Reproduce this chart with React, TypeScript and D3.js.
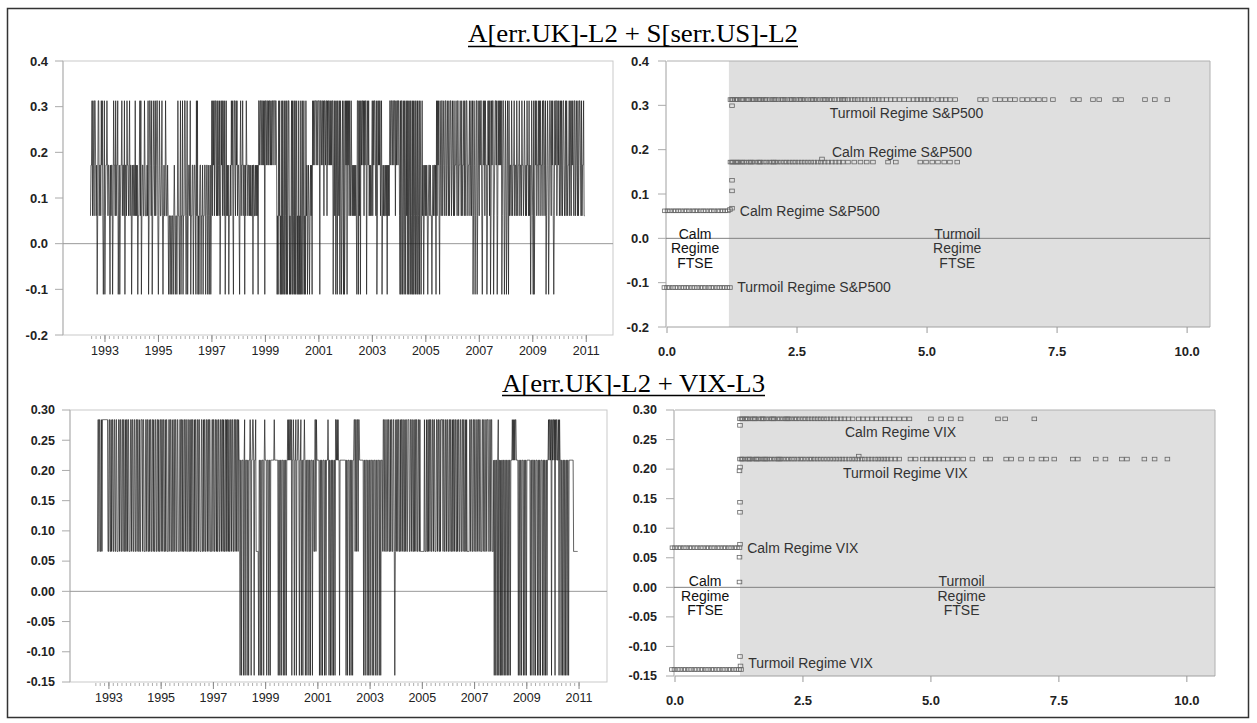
import React from "react";
import * as d3 from "d3";

// ---------- time series (left panels) ----------
// one letter per week, letters map to the regime levels below; one string per quarter
const ukSpLevels: Record<string, number> = { a: 0.313, b: 0.172, c: 0.061, d: -0.111 };
const ukSpStart = 1992.458;
const ukSpCodes = [
  "cbbacabcaabcbdcaacbbcabacdca",
  "dcbbabcbbcdbc", "bbdcabbcacbba", "dcbdcbbacbbca", "dbbcabbcbacbb",
  "dcbcbbcacbcbd", "ccbacadcbbcca", "bcccbcadcaabc", "adcbabcacbaac",
  "dcabccbacdcbc", "cabccbcdccdcc", "dccdcbcdccdca", "ccdcadccadcca",
  "acdcadcbbcadc", "cbbdcbbcdacad", "cdcbbdccbdccb", "bdcbbdcbdcbdc",
  "acabacaabcaca", "bcadcabacabca", "dcacbcbdccbca", "bacdaabcabacb",
  "bcdbacbbacbbd", "bcabbcbbcbcbc", "cbdbbccbcbcbd", "aabaabaababad",
  "aabaababaabab", "aabaaabaabdcd", "acadcdadacdad", "cadadcaadcdca",
  "dadcadadcadcd", "adcdadcadcadc", "dacbdcbcdcbcb", "dababaaabaaba",
  "aadaabaabacaa", "baacabaababab", "aadbacadcadab", "cadabdcabdadc",
  "abadabacabcab", "cbcbcbcbcdaad", "acadabaabacab", "aadbabacbcbcb",
  "acabaabcadcab", "abacbadcbcbcc", "bcbdbcbcaabaa", "baabaacabaaba",
  "acdadaadcadab", "dacadadcadacd", "adadcadacdadc", "adabdcacbdcbc",
  "bcbcdcbbcbccd", "cbcbbcbdacaba", "cdabcaacbabca", "acbabcacbaacb",
  "abcacbbabcaac", "bbabcacbbacab", "caabcbbacbacb", "adcabdcaadcab",
  "cabaacdbabaca", "bbdcabacadcab", "aadcbaabadcab", "ababadcaabdca",
  "bdcabdacbbcab", "cbbacbbcabcbb", "acbbcabbcbabc", "bcabbcacbdcab",
  "cdadcabacbbac", "abacbbacaabca", "dcbabdcaabcab", "acdcabaacbaba",
  "cbacabcaabcba", "cabcbbacabcab", "abcaacbabcacb", "aabcacbbacc",
];

const ukVixLevels: Record<string, number> = { a: 0.284, b: 0.217, c: 0.066, d: -0.139 };
const ukVixStart = 1992.542;
const ukVixCodes = [
  "ccaacaaccacaaaaaaaaaaacc",
  "aaccacaaccaac", "caacccaacaacc", "aacaaccacaaca", "acccaacaaccaa",
  "ccaacaaccacca", "aacaacccaacaa", "ccacaaccaacac", "caaccaacaccaa",
  "caacaaccacaac", "ccaacaaccacca", "acaaccaacccaa", "caacaccaacaac",
  "caaccacaacaac", "cacaaccaacaac", "ccaaccacaacca", "acaacaacccaac",
  "aaccaacaccaac", "caacaacaccaac", "acaacaccaacaa", "ccaacaacaacab",
  "bdbbdbbbdbadb", "bbdbbdbbabdbb", "aabdbbacccccd", "bbdbbdbbbdbab",
  "bbdbbbdbbdbbb", "bbbbabbbbbbbd", "bbdbbdbbbdbbd", "bbdbbababaaba",
  "dbbabdbbadbba", "abdbbadbbdbba", "bdbbdbbbdbbdb", "bbdbbccaacabb",
  "bbbdbbdbbdbbb", "dbbdbbbabdbbd", "bbdbbdbbdaaba", "babbdbbbbbbbb",
  "bbbbdbbdbbbdb", "bdbbdbbaacaac", "aacaabbbbbbbb", "dbbdbbbdbbdbb",
  "dbbbdbbdbbbdb", "bdbbbdbbdbbbc", "aacaaccaacaac", "cacaaccaacdca",
  "caacaaccacaac", "aaccacaaccaaa", "ccaacaaccacaa", "caaccaacacccc",
  "ccccacccaccac", "aacaaccaacaac", "ccaacaaccacaa", "aacaaccaacaac",
  "caacaaccacaac", "aaccacaaccaac", "caacaaccacacc", "cccaacaaccaac",
  "aaccaacaacaac", "ccaacaaccaaca", "aaccaacaacccb", "dbbdbbdbadbbd",
  "bdbbdbbdbbdbb", "dbbdbbdbbbaba", "babaabbbbdbbd", "bbdbbbdbbdbbd",
  "bbbbbbbdbbdbb", "bdbbdbbbdbbdb", "bdbbbdbbdbbdb", "bdbbabaabadab",
  "aabadabaabbad", "abbdbbdbbdbbd", "bbdbbdbbbbbbb", "bbccccccccc",
];

const yearLabels = [1993, 1995, 1997, 1999, 2001, 2003, 2005, 2007, 2009, 2011];
const spYTicks = [0.4, 0.3, 0.2, 0.1, 0.0, -0.1, -0.2];
const vixYTicks = [0.3, 0.25, 0.2, 0.15, 0.1, 0.05, 0.0, -0.05, -0.1, -0.15];
const volTicks = [0, 2.5, 5, 7.5, 10];

// ---------- scatter (right panels) ----------
const spRowLevels = { high: 0.313, mid: 0.172, calm: 0.062, low: -0.111 };
const spCalmRowX = [-0.04, 0.01, 0.06, 0.12, 0.17, 0.22, 0.27, 0.33, 0.38, 0.43, 0.49, 0.54, 0.59, 0.65, 0.7, 0.75, 0.81, 0.86, 0.91, 0.97, 1.02, 1.07, 1.12, 1.17];
const spLowRowX = [-0.05, 0.0, 0.05, 0.11, 0.16, 0.21, 0.27, 0.32, 0.37, 0.42, 0.48, 0.53, 0.58, 0.64, 0.69, 0.74, 0.8, 0.85, 0.9, 0.96, 1.01, 1.06, 1.11, 1.16, 1.21];
const spHighRowX = [
  1.22, 1.25, 1.27, 1.31, 1.34, 1.36, 1.42, 1.45, 1.47, 1.53, 1.56, 1.58, 1.64, 1.67, 1.7, 1.75, 1.78, 1.81, 1.86, 1.89,
  1.92, 1.98, 2.03, 2.06, 2.09, 2.14, 2.2, 2.23, 2.26, 2.31, 2.37, 2.4, 2.43, 2.48, 2.54, 2.57, 2.6, 2.65, 2.71, 2.77,
  2.8, 2.83, 2.88, 2.94, 3.0, 3.03, 3.06, 3.12, 3.17, 3.23, 3.3, 3.36, 3.39, 3.42,
  3.48, 3.55, 3.61, 3.67, 3.74, 3.8, 3.87, 3.94, 4.0, 4.07, 4.14, 4.22, 4.3, 4.38, 4.47, 4.56, 4.65, 4.74,
  4.81, 4.88, 4.95, 5.02, 5.09, 5.21, 5.28, 5.36, 5.44, 5.54, 6.02, 6.13, 6.31, 6.4, 6.5, 6.6, 6.69,
  6.83, 6.93, 7.04, 7.15, 7.26, 7.42, 7.81, 7.92, 8.19, 8.31, 8.62, 8.73, 9.19, 9.38, 9.62,
];
const spMidRowX = [
  1.22, 1.25, 1.27, 1.32, 1.35, 1.37, 1.42, 1.45, 1.48, 1.53, 1.58, 1.61, 1.64, 1.69, 1.75, 1.78, 1.8, 1.86, 1.91, 1.97,
  2.02, 2.05, 2.08, 2.13, 2.19, 2.25, 2.3, 2.36, 2.42, 2.47, 2.53, 2.59, 2.65, 2.71, 2.77, 2.83, 2.9, 2.96, 3.03, 3.1,
  3.17, 3.24, 3.31, 3.38,
  3.48, 3.6, 3.72, 3.84, 3.96, 4.25, 4.4, 4.87, 4.98, 5.1, 5.21, 5.33, 5.44, 5.58,
];
const spLoosePoints: [number, number][] = [[1.21, 0.065], [1.25, 0.068], [1.25, 0.107], [1.25, 0.131], [1.25, 0.299], [2.98, 0.179]];

const vixRowLevels = { high: 0.285, mid: 0.217, calm: 0.067, low: -0.139 };
const vixCalmRowX = [-0.05, 0.0, 0.06, 0.11, 0.17, 0.22, 0.28, 0.33, 0.39, 0.44, 0.5, 0.55, 0.61, 0.66, 0.72, 0.77, 0.83, 0.88, 0.94, 0.99, 1.05, 1.1, 1.16, 1.21, 1.26];
const vixLowRowX = [-0.06, -0.01, 0.05, 0.1, 0.16, 0.21, 0.27, 0.32, 0.38, 0.43, 0.49, 0.54, 0.6, 0.65, 0.71, 0.76, 0.82, 0.87, 0.93, 0.98, 1.04, 1.09, 1.15, 1.2, 1.25, 1.29];
const vixHighRowX = [
  1.27, 1.3, 1.32, 1.37, 1.4, 1.42, 1.47, 1.52, 1.55, 1.57, 1.63, 1.68, 1.71, 1.73, 1.78, 1.84, 1.89, 1.92, 1.94, 2.0,
  2.05, 2.11, 2.16, 2.19, 2.22, 2.27, 2.33, 2.38, 2.44, 2.5, 2.55, 2.61, 2.67, 2.73, 2.79, 2.85, 2.91, 2.97, 3.04, 3.1,
  3.17, 3.24, 3.31, 3.39, 3.47,
  3.59, 3.67, 3.76, 3.85, 3.93, 4.02, 4.1, 4.19, 4.28, 4.38, 4.48, 4.58, 5.0, 5.2, 5.39, 5.58, 6.31, 6.45, 7.02,
];
const vixMidRowX = [
  1.27, 1.3, 1.32, 1.37, 1.42, 1.45, 1.47, 1.52, 1.58, 1.6, 1.63, 1.68, 1.73, 1.76, 1.79, 1.84, 1.89, 1.95, 2.0, 2.03,
  2.06, 2.11, 2.17, 2.22, 2.28, 2.33, 2.39, 2.45, 2.5, 2.56, 2.62, 2.67, 2.73, 2.79, 2.85, 2.91, 2.97, 3.03, 3.09, 3.15,
  3.21, 3.27, 3.33, 3.4, 3.46, 3.52, 3.58, 3.65, 3.71, 3.78, 3.84, 3.91, 3.97, 4.03, 4.09,
  4.15, 4.22, 4.3, 4.38, 4.6, 4.7, 4.84, 4.92, 5.0, 5.08, 5.16, 5.24, 5.33, 5.42, 5.52, 5.63, 5.81,
  6.07, 6.16, 6.47, 6.57, 6.76, 6.97, 7.16, 7.25, 7.41, 7.77, 7.87, 8.22, 8.41, 8.73, 8.83, 9.17, 9.37, 9.62,
];
const vixLoosePoints: [number, number][] = [
  [1.27, 0.274], [1.27, 0.2035], [1.26, 0.197], [1.27, 0.144], [1.27, 0.127], [1.27, 0.073],
  [1.26, 0.051], [1.26, 0.009], [1.27, -0.117], [1.28, -0.133], [3.59, 0.222],
];

type Note = { text: string; x: number; y: number };
const spNotes: Note[] = [
  { text: "Turmoil Regime S&P500", x: 3.13, y: 0.283 },
  { text: "Calm Regime S&P500", x: 3.17, y: 0.195 },
  { text: "Calm Regime S&P500", x: 1.4, y: 0.061 },
  { text: "Turmoil Regime S&P500", x: 1.35, y: -0.11 },
];
const vixNotes: Note[] = [
  { text: "Calm Regime VIX", x: 3.32, y: 0.263 },
  { text: "Turmoil Regime VIX", x: 3.28, y: 0.193 },
  { text: "Calm Regime VIX", x: 1.41, y: 0.067 },
  { text: "Turmoil Regime VIX", x: 1.43, y: -0.128 },
];
const ftseCalm = ["Calm", "Regime", "FTSE"];
const ftseTurmoil = ["Turmoil", "Regime", "FTSE"];

const SANS = "'Liberation Sans', Arial, sans-serif";
const SERIF = "'Liberation Serif', 'Times New Roman', serif";

type Box = { left: number; right: number; top: number; bottom: number };

function toSeries(codes: string[], start: number, levels: Record<string, number>) {
  return Array.from(codes.join(""), (ch, i) => ({ t: start + i / 52, v: levels[ch] }));
}

function TimePanel(props: {
  box: Box; xDomain: [number, number]; yDomain: [number, number]; yTicks: number[]; digits: number;
  codes: string[]; start: number; levels: Record<string, number>; fs: number;
}) {
  const { box, xDomain, yDomain, yTicks, digits, codes, start, levels, fs } = props;
  const x = d3.scaleLinear().domain(xDomain).range([box.left, box.right]);
  const y = d3.scaleLinear().domain(yDomain).range([box.bottom, box.top]);
  const data = toSeries(codes, start, levels);
  const line = d3.line<{ t: number; v: number }>().x(d => x(d.t)).y(d => y(d.v));
  const minor = d3.range(1992.5, 2011.01, 1 / 6);
  return (
    <g>
      <rect x={box.left} y={box.top} width={box.right - box.left} height={box.bottom - box.top}
        fill="none" stroke="#c9c9c9" strokeWidth={1} />
      <line x1={box.left} x2={box.left} y1={box.top} y2={box.bottom} stroke="#b5b5b5" />
      {yTicks.map(t => (
        <g key={t}>
          <line x1={box.left - 8} x2={box.left} y1={y(t)} y2={y(t)} stroke="#aaa" />
          <text x={box.left - 15} y={y(t)} dy="0.35em" textAnchor="end" fontFamily={SANS}
            fontSize={fs} fontWeight="bold" fill="#222">{t.toFixed(digits)}</text>
        </g>
      ))}
      <line x1={box.left} x2={box.right} y1={y(0)} y2={y(0)} stroke="#999" strokeWidth={1} />
      {minor.map((t, i) => (
        <line key={i} x1={x(t)} x2={x(t)} y1={box.bottom + 1} y2={box.bottom + 4} stroke="#999" strokeWidth={0.8} />
      ))}
      {yearLabels.map(yr => (
        <g key={yr}>
          <line x1={x(yr)} x2={x(yr)} y1={box.bottom} y2={box.bottom + 7} stroke="#888" />
          <text x={x(yr)} y={box.bottom + 20} textAnchor="middle" fontFamily={SANS} fontSize={12.5} fill="#222">{yr}</text>
        </g>
      ))}
      <path d={line(data) ?? ""} fill="none" stroke="#1c1c1c" strokeWidth={0.7} />
    </g>
  );
}

function ScatterPanel(props: {
  box: Box; xMax: number; yDomain: [number, number]; yTicks: number[]; digits: number; fs: number;
  shadeFrom: number; rows: { y: number; xs: number[] }[]; loose: [number, number][];
  notes: Note[]; calmX: number; turmoilX: number; ftseY: number;
}) {
  const { box, xMax, yDomain, yTicks, digits, fs, shadeFrom, rows, loose, notes, calmX, turmoilX, ftseY } = props;
  const x = d3.scaleLinear().domain([0, xMax]).range([box.left, box.right]);
  const y = d3.scaleLinear().domain(yDomain).range([box.bottom, box.top]);
  const pts: [number, number][] = [];
  rows.forEach(r => r.xs.forEach(v => pts.push([v, r.y])));
  loose.forEach(p => pts.push(p));
  const sq = (p: [number, number], i: number) => (
    <rect key={i} x={x(p[0]) - 2.3} y={y(p[1]) - 1.8} width={4.6} height={3.6}
      fill="none" stroke="#666" strokeWidth={0.8} />
  );
  const yC = y(ftseY);
  return (
    <g>
      <rect x={x(shadeFrom)} y={box.top} width={box.right - x(shadeFrom)} height={box.bottom - box.top} fill="#dfdfdf" />
      <line x1={box.left} x2={box.right} y1={box.top} y2={box.top} stroke="#b0b0b0" />
      <line x1={box.right} x2={box.right} y1={box.top} y2={box.bottom} stroke="#b0b0b0" />
      <line x1={box.left} x2={box.right} y1={box.bottom} y2={box.bottom} stroke="#a0a0a0" />
      <line x1={box.left - 1} x2={box.left - 1} y1={box.top} y2={box.bottom} stroke="#a0a0a0" />
      {yTicks.map(t => (
        <g key={t}>
          <line x1={box.left - 9} x2={box.left - 1} y1={y(t)} y2={y(t)} stroke="#aaa" />
          <text x={box.left - 18} y={y(t)} dy="0.35em" textAnchor="end" fontFamily={SANS}
            fontSize={fs} fontWeight="bold" fill="#222">{t.toFixed(digits)}</text>
        </g>
      ))}
      <line x1={box.left - 1} x2={box.right} y1={y(0)} y2={y(0)} stroke="#808080" />
      {volTicks.map(t => (
        <g key={t}>
          <line x1={x(t)} x2={x(t)} y1={box.bottom} y2={box.bottom + 6} stroke="#999" />
          <text x={x(t)} y={box.bottom + 29} textAnchor="middle" fontFamily={SANS} fontSize={13}
            fontWeight="bold" fill="#222">{t.toFixed(1)}</text>
        </g>
      ))}
      {pts.map(sq)}
      {notes.map((n, i) => (
        <text key={i} x={x(n.x)} y={y(n.y)} dy="0.35em" fontFamily={SANS} fontSize={14} fill="#333">{n.text}</text>
      ))}
      {ftseCalm.map((s, i) => (
        <text key={"c" + i} x={x(calmX)} y={yC + (i - 1) * 14.5} dy="0.35em" textAnchor="middle"
          fontFamily={SANS} fontSize={14} fill="#111">{s}</text>
      ))}
      {ftseTurmoil.map((s, i) => (
        <text key={"t" + i} x={x(turmoilX)} y={yC + (i - 1) * 14.5} dy="0.35em" textAnchor="middle"
          fontFamily={SANS} fontSize={14} fill="#333">{s}</text>
      ))}
    </g>
  );
}

export default function App() {
  return (
    <svg width={1257} height={723} style={{ position: "absolute", left: 0, top: 0, background: "#fff" }}>
      <rect x={0} y={0} width={1257} height={723} fill="#fff" />
      <rect x={7.5} y={8.5} width={1241} height={709} fill="none" stroke="#333" strokeWidth={1.5} />

      <text x={468} y={42} fontFamily={SERIF} fontSize={26} textLength={330} lengthAdjust="spacingAndGlyphs" fill="#000">
        A[err.UK]-L2 + S[serr.US]-L2
      </text>
      <line x1={468} x2={798} y1={46.5} y2={46.5} stroke="#000" strokeWidth={1.3} />
      <text x={502} y={392} fontFamily={SERIF} fontSize={26} textLength={263} lengthAdjust="spacingAndGlyphs" fill="#000">
        A[err.UK]-L2 + VIX-L3
      </text>
      <line x1={502} x2={765} y1={395.5} y2={395.5} stroke="#000" strokeWidth={1.3} />

      <TimePanel box={{ left: 63, right: 613, top: 61, bottom: 335 }} xDomain={[1991.43, 2012.0]}
        yDomain={[-0.2, 0.4]} yTicks={spYTicks} digits={1} fs={13}
        codes={ukSpCodes} start={ukSpStart} levels={ukSpLevels} />
      <TimePanel box={{ left: 70, right: 607, top: 410, bottom: 682 }} xDomain={[1991.51, 2012.07]}
        yDomain={[-0.15, 0.3]} yTicks={vixYTicks} digits={2} fs={12.5}
        codes={ukVixCodes} start={ukVixStart} levels={ukVixLevels} />

      <ScatterPanel box={{ left: 667, right: 1210, top: 61, bottom: 327 }} xMax={10.44}
        yDomain={[-0.2, 0.4]} yTicks={spYTicks} digits={1} fs={13} shadeFrom={1.19}
        rows={[
          { y: spRowLevels.high, xs: spHighRowX },
          { y: spRowLevels.mid, xs: spMidRowX },
          { y: spRowLevels.calm, xs: spCalmRowX },
          { y: spRowLevels.low, xs: spLowRowX },
        ]}
        loose={spLoosePoints} notes={spNotes} calmX={0.54} turmoilX={5.58} ftseY={-0.0226} />
      <ScatterPanel box={{ left: 675, right: 1215, top: 410, bottom: 676 }} xMax={10.55}
        yDomain={[-0.15, 0.3]} yTicks={vixYTicks} digits={2} fs={12.5} shadeFrom={1.27}
        rows={[
          { y: vixRowLevels.high, xs: vixHighRowX },
          { y: vixRowLevels.mid, xs: vixMidRowX },
          { y: vixRowLevels.calm, xs: vixCalmRowX },
          { y: vixRowLevels.low, xs: vixLowRowX },
        ]}
        loose={vixLoosePoints} notes={vixNotes} calmX={0.59} turmoilX={5.6} ftseY={-0.0144} />
    </svg>
  );
}
